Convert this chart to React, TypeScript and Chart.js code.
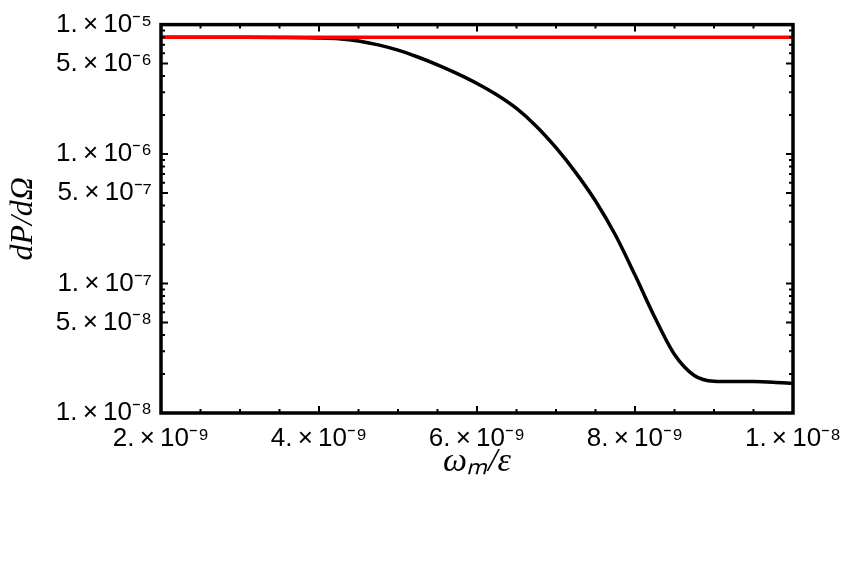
import { useEffect, useRef } from 'react';
import { Chart, registerables } from 'chart.js';

Chart.register(...registerables);

// ω_m/ε values (x) and dP/dΩ values (y)
const omegaOverEps = [
  2.0e-9, 2.5e-9, 3.0e-9, 3.5e-9, 4.0e-9, 4.25e-9, 4.5e-9, 4.75e-9, 5.0e-9,
  5.25e-9, 5.5e-9, 5.75e-9, 6.0e-9, 6.25e-9, 6.5e-9, 6.75e-9, 7.0e-9, 7.25e-9,
  7.5e-9, 7.75e-9, 8.0e-9, 8.25e-9, 8.5e-9, 8.75e-9, 9.0e-9, 9.25e-9, 9.5e-9,
  9.75e-9, 1.0e-8,
];
const dPdOmega = [
  8.0e-6, 8.0e-6, 7.99e-6, 7.96e-6, 7.88e-6, 7.77e-6, 7.47e-6, 6.97e-6, 6.35e-6,
  5.62e-6, 4.89e-6, 4.18e-6, 3.51e-6, 2.87e-6, 2.25e-6, 1.643e-6, 1.12e-6, 7.19e-7,
  4.34e-7, 2.38e-7, 1.163e-7, 5.49e-8, 2.83e-8, 1.95e-8, 1.76e-8, 1.75e-8, 1.75e-8,
  1.73e-8, 1.69e-8,
];
// red reference level
const refX = [2.0e-9, 1.0e-8];
const refY = [8.0e-6, 8.0e-6];

// tick labels
const xMajorTicks = [2e-9, 4e-9, 6e-9, 8e-9, 1e-8];
const xMajorLabels = [
  '2.\u2009×\u200910⁻⁹',
  '4.\u2009×\u200910⁻⁹',
  '6.\u2009×\u200910⁻⁹',
  '8.\u2009×\u200910⁻⁹',
  '1.\u2009×\u200910⁻⁸',
];
const yMajorTicks = [1e-8, 5e-8, 1e-7, 5e-7, 1e-6, 5e-6, 1e-5];
const yMajorLabels = [
  '1.\u2009×\u200910⁻⁸',
  '5.\u2009×\u200910⁻⁸',
  '1.\u2009×\u200910⁻⁷',
  '5.\u2009×\u200910⁻⁷',
  '1.\u2009×\u200910⁻⁶',
  '5.\u2009×\u200910⁻⁶',
  '1.\u2009×\u200910⁻⁵',
];

function labelFor(v: number, vals: number[], labels: string[]): string {
  for (let i = 0; i < vals.length; i++) {
    if (Math.abs(v - vals[i]) / vals[i] < 1e-6) return labels[i];
  }
  return '';
}

const framePlugin = {
  id: 'mmaFrame',
  afterDatasetsDraw(chart: any) {
    const { ctx, chartArea: a } = chart;
    const xs = chart.scales.x;
    const ys = chart.scales.y;
    ctx.save();
    ctx.strokeStyle = '#000';
    ctx.lineWidth = 2;
    ctx.beginPath();
    xs.ticks.forEach((t: any) => {
      const p = xs.getPixelForValue(t.value);
      const len = labelFor(t.value, xMajorTicks, xMajorLabels) ? 7 : 4;
      ctx.moveTo(p, a.bottom);
      ctx.lineTo(p, a.bottom - len);
      ctx.moveTo(p, a.top);
      ctx.lineTo(p, a.top + len);
    });
    ys.ticks.forEach((t: any) => {
      const p = ys.getPixelForValue(t.value);
      const len = labelFor(t.value, yMajorTicks, yMajorLabels) ? 7 : 4;
      ctx.moveTo(a.left, p);
      ctx.lineTo(a.left + len, p);
      ctx.moveTo(a.right, p);
      ctx.lineTo(a.right - len, p);
    });
    ctx.stroke();
    ctx.lineWidth = 3.5;
    ctx.strokeRect(a.left, a.top, a.right - a.left, a.bottom - a.top);
    ctx.restore();
  },
};

export default function App() {
  const ref = useRef<HTMLCanvasElement | null>(null);

  useEffect(() => {
    if (!ref.current) return;
    const xTicks: number[] = [];
    for (let i = 0; i <= 16; i++) xTicks.push(2e-9 + i * 0.5e-9);
    const yTicks: number[] = [];
    for (let e = -8; e <= -6; e++) {
      for (let m = 1; m <= 9; m++) yTicks.push(m * Math.pow(10, e));
    }
    yTicks.push(1e-5);

    const chart = new Chart(ref.current, {
      type: 'line',
      data: {
        datasets: [
          {
            label: 'reference',
            data: refX.map((x, i) => ({ x, y: refY[i] })),
            borderColor: '#ff0000',
            borderWidth: 3.5,
            pointRadius: 0,
            fill: false,
          },
          {
            label: 'dP/dΩ',
            data: omegaOverEps.map((x, i) => ({ x, y: dPdOmega[i] })),
            borderColor: '#000000',
            borderWidth: 3.5,
            pointRadius: 0,
            fill: false,
            cubicInterpolationMode: 'monotone',
          },
        ],
      },
      options: {
        animation: false,
        responsive: false,
        layout: { padding: { left: 0, top: 22, right: 59, bottom: 0 } },
        plugins: {
          legend: { display: false },
          tooltip: { enabled: false },
        },
        scales: {
          x: {
            type: 'linear',
            min: 2e-9,
            max: 1e-8,
            afterBuildTicks: (scale: any) => {
              scale.ticks = xTicks.map((v) => ({ value: v }));
            },
            afterFit: (scale: any) => {
              scale.height = 159;
            },
            grid: { display: false, drawTicks: false },
            border: { display: false },
            ticks: {
              autoSkip: false,
              maxRotation: 0,
              minRotation: 0,
              padding: 10,
              color: '#000',
              font: { family: 'Liberation Sans', size: 26 },
              callback: (v: any) => labelFor(Number(v), xMajorTicks, xMajorLabels),
            },
            title: {
              display: true,
              text: 'ωₘ/ε',
              color: '#000',
              font: { family: 'Liberation Serif', size: 34, style: 'italic' },
              padding: { top: 0, bottom: 90 },
            },
          },
          y: {
            type: 'logarithmic',
            min: 1e-8,
            max: 1e-5,
            afterBuildTicks: (scale: any) => {
              scale.ticks = yTicks.map((v) => ({ value: v }));
            },
            afterFit: (scale: any) => {
              scale.width = 161;
            },
            grid: { display: false, drawTicks: false },
            border: { display: false },
            ticks: {
              autoSkip: false,
              padding: 9,
              color: '#000',
              font: { family: 'Liberation Sans', size: 26 },
              callback: (v: any) => labelFor(Number(v), yMajorTicks, yMajorLabels),
            },
            title: {
              display: true,
              text: 'dP/dΩ',
              color: '#000',
              font: { family: 'Liberation Serif', size: 32, style: 'italic' },
              padding: { top: 4, bottom: 0 },
            },
          },
        },
      },
      plugins: [framePlugin],
    } as any);
    return () => chart.destroy();
  }, []);

  return (
    <div style={{ position: 'fixed', left: 0, top: 0, width: 852, height: 572, background: '#fff' }}>
      <canvas ref={ref} width={852} height={572} style={{ display: 'block' }} />
    </div>
  );
}
